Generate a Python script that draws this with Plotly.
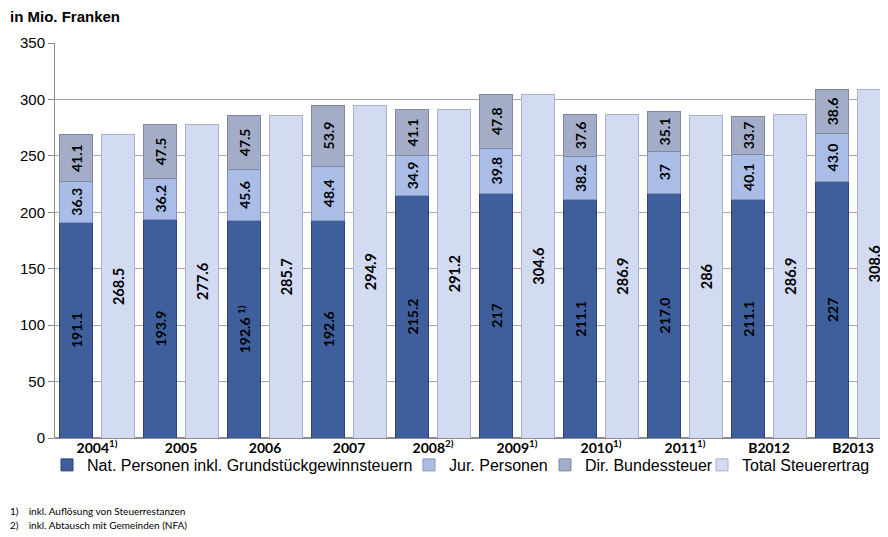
import numpy as np
import plotly.graph_objects as go

categories = ["2004<sup>1)</sup>", "2005", "2006", "2007", "2008<sup>2)</sup>",
              "2009<sup>1)</sup>", "2010<sup>1)</sup>", "2011<sup>1)</sup>", "B2012", "B2013"]
nat = [191.1, 193.9, 192.6, 192.6, 215.2, 217, 211.1, 217.0, 211.1, 227]
nat_labels = ["191.1", "193.9", "192.6 <sup>1)</sup>", "192.6", "215.2", "217", "211.1", "217.0", "211.1", "227"]
jur = [36.3, 36.2, 45.6, 48.4, 34.9, 39.8, 38.2, 37, 40.1, 43.0]
jur_labels = ["36.3", "36.2", "45.6", "48.4", "34.9", "39.8", "38.2", "37", "40.1", "43.0"]
dbs = [41.1, 47.5, 47.5, 53.9, 41.1, 47.8, 37.6, 35.1, 33.7, 38.6]
dbs_labels = ["41.1", "47.5", "47.5", "53.9", "41.1", "47.8", "37.6", "35.1", "33.7", "38.6"]
total = [268.5, 277.6, 285.7, 294.9, 291.2, 304.6, 286.9, 286, 286.9, 308.6]
total_labels = ["268.5", "277.6", "285.7", "294.9", "291.2", "304.6", "286.9", "286", "286.9", "308.6"]

series_names = ["Nat. Personen inkl. Grundstückgewinnsteuern", "Jur. Personen",
                "Dir. Bundessteuer", "Total Steuerertrag"]
colors = ["#3f5f9c", "#a9bde6", "#a3adc7", "#d3dbf3"]
line_colors = ["#2c4476", "#8596bd", "#7f89a3", "#a9b0c6"]
legend_ids = ["legend", "legend2", "legend3", "legend4"]

# page body has an 8px margin: figure is drawn offset by (8, 8) in the window
W, H = 880, 529
ML, MT, MR, MB = 47, 35, 0, 99
PW = W - ML - MR

idx = np.arange(len(categories))
x_stack = idx - 0.25
x_total = idx + 0.25
bw = 0.39

label_font = dict(family="Lato, Carlito, sans-serif", size=14, color="black")

fig = go.Figure()
for vals, labs, name, c, lc, lg in zip([nat, jur, dbs], [nat_labels, jur_labels, dbs_labels],
                                       series_names[:3], colors[:3], line_colors[:3], legend_ids[:3]):
    fig.add_trace(go.Bar(
        x=x_stack, y=vals, width=bw, name=name, legend=lg,
        marker=dict(color=c, line=dict(color=lc, width=1)),
        text=labs, texttemplate="<b>%{text}</b>", textposition="inside",
        insidetextanchor="middle", textangle=-90, textfont=label_font,
        constraintext="none",
    ))
fig.add_trace(go.Bar(
    x=x_total, y=total, width=bw, name=series_names[3], legend=legend_ids[3],
    marker=dict(color=colors[3], line=dict(color=line_colors[3], width=1)),
    text=total_labels, texttemplate="<b>%{text}</b>", textposition="inside",
    insidetextanchor="middle", textangle=-90,
    textfont=dict(family="Lato, Carlito, sans-serif", size=14.5, color="black"),
    constraintext="none",
))

# legend placement (window pixel of each legend's left edge)
legend_left_px = [47, 409, 545, 702]
leg_y = 1 - 440 / H
legend_common = dict(orientation="h", xanchor="left", yref="container", y=leg_y, yanchor="top",
                     font=dict(family="Liberation Sans, Arial, sans-serif", size=16),
                     itemwidth=30, bgcolor="rgba(0,0,0,0)")
legend_layout = {}
for lg, px in zip(legend_ids, legend_left_px):
    legend_layout[lg] = dict(x=(px - 8 - ML) / PW, **legend_common)

fig.update_layout(
    width=W, height=H,
    barmode="stack",
    paper_bgcolor="white", plot_bgcolor="white",
    margin=dict(l=ML, r=MR, t=MT, b=MB, autoexpand=False),
    font=dict(family="Liberation Sans, Arial, sans-serif", color="black"),
    showlegend=True,
    annotations=[
        dict(text="<b>in Mio. Franken</b>", xref="paper", yref="paper", x=-ML / PW, y=1.0,
             xanchor="left", yanchor="middle", yshift=27, showarrow=False,
             font=dict(family="Liberation Sans, Arial, sans-serif", size=15)),
        dict(text="1)    inkl. Auflösung von Steuerrestanzen", xref="paper", yref="paper",
             x=-ML / PW, y=0, yshift=-73, xanchor="left", yanchor="middle", showarrow=False,
             font=dict(family="Lato, Carlito, sans-serif", size=10)),
        dict(text="2)    inkl. Abtausch mit Gemeinden (NFA)", xref="paper", yref="paper",
             x=-ML / PW, y=0, yshift=-87, xanchor="left", yanchor="middle", showarrow=False,
             font=dict(family="Lato, Carlito, sans-serif", size=10)),
    ],
    **legend_layout,
)
fig.update_xaxes(
    range=[-0.5, -0.5 + PW / 84], tickvals=idx, ticktext=["<b>" + c + "</b>" for c in categories],
    tickfont=dict(family="Lato, Carlito, sans-serif", size=14, color="black"),
    showgrid=False, zeroline=False, showline=False, ticks="", ticklen=0,
)
fig.update_yaxes(
    range=[0, 350], dtick=50, showgrid=True, gridcolor="#a6a6a6", gridwidth=1,
    showline=True, linecolor="#8c8c8c", linewidth=1, ticks="outside", ticklen=6,
    tickcolor="#8c8c8c", zeroline=True, zerolinecolor="#8c8c8c",
    tickfont=dict(family="Liberation Sans, Arial, sans-serif", size=15, color="black"),
)

fig.write_html("out.html")
